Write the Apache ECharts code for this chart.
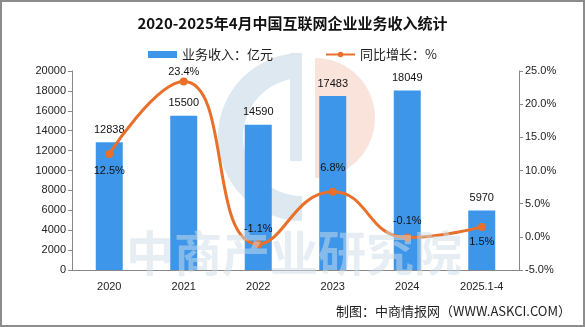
<!DOCTYPE html>
<html>
<head>
<meta charset="utf-8">
<script src="https://cdn.jsdelivr.net/npm/echarts@6/dist/echarts.min.js"></script>
<style>
  html, body { margin: 0; padding: 0; background: #fff; }
  #chart { width: 585px; height: 327px; box-sizing: border-box; border: 2px solid #8c8c8c; }
</style>
</head>
<body>
<div id="chart"></div>
<script>
// Categories and series
const categories = ['2020', '2021', '2022', '2023', '2024', '2025.1-4'];
const revenue = [12838, 15500, 14590, 17483, 18049, 5970];       // 亿元
const growth = [12.5, 23.4, -1.1, 6.8, -0.1, 1.5];                // %
const growthLabelPos = ['bottom', 'top', 'top', 'top', 'top', 'bottom'];
const growthLabelGap = [8, 0, 6, 14, 7, 6];

const leftTicks = { min: 0, max: 20000, interval: 2000 };
const rightTicks = { min: -5, max: 25, interval: 5 };

const labelFont = '"Liberation Sans", "DejaVu Sans", sans-serif';
const cjkFont = '"Noto Sans CJK SC", sans-serif';

const chart = echarts.init(document.getElementById('chart'), null, { renderer: 'canvas' });

chart.setOption({
  animation: false,
  backgroundColor: '#fff',
  title: {
    text: '2020-2025年4月中国互联网企业业务收入统计',
    left: 'center',
    top: 9,
    textStyle: { fontFamily: cjkFont, fontSize: 15, fontWeight: 'bold', color: '#111' }
  },
  legend: {
    top: 41,
    left: 'center',
    itemGap: 52,
    textStyle: { fontFamily: cjkFont, fontSize: 13, color: '#222' },
    data: [
      { name: '业务收入：亿元', icon: 'rect', itemStyle: { color: '#3d96ea' } },
      { name: '同比增长：%' }
    ],
    itemWidth: 29,
    itemHeight: 7
  },
  graphic: [
    // faint background logo
    {
      type: 'sector', z: -10, silent: true,
      shape: { cx: 300, cy: 135, r: 84, r0: 59, startAngle: Math.PI * 0.5, endAngle: Math.PI * 1.5, clockwise: true },
      style: { fill: '#dde8f0' }
    },
    {
      type: 'rect', z: -10, silent: true,
      shape: { x: 288, y: 51, width: 12, height: 108 },
      style: { fill: '#dde8f0' }
    },
    {
      type: 'sector', z: -10, silent: true,
      shape: { cx: 313, cy: 116, r: 60, r0: 0, startAngle: -Math.PI * 0.5, endAngle: Math.PI * 0.5, clockwise: true },
      style: { fill: '#f9e3da' }
    },
    {
      type: 'text', z: 100, silent: true,
      left: 124, top: 227,
      style: { text: '中商产业研究院', fontFamily: cjkFont, fontSize: 48, fontWeight: 'bold', fill: 'rgba(205,222,234,0.5)' }
    },
    {
      type: 'text', right: 12, bottom: 7,
      style: { text: '制图：中商情报网（WWW.ASKCI.COM）', fontFamily: cjkFont, fontSize: 13, fill: '#222' }
    }
  ],
  grid: { left: 70, right: 64, top: 69, bottom: 55 },
  xAxis: {
    type: 'category',
    data: categories,
    axisLine: { lineStyle: { color: '#888' } },
    axisTick: { lineStyle: { color: '#888' }, length: 4 },
    axisLabel: { fontFamily: labelFont, fontSize: 11, color: '#222', margin: 11 }
  },
  yAxis: [
    {
      type: 'value', ...leftTicks,
      axisLine: { show: true, lineStyle: { color: '#888' } },
      axisTick: { show: true, length: 4, lineStyle: { color: '#888' } },
      splitLine: { show: false },
      axisLabel: { fontFamily: labelFont, fontSize: 11, color: '#222', margin: 6,
        formatter: v => String(v) }
    },
    {
      type: 'value', ...rightTicks,
      axisLine: { show: true, lineStyle: { color: '#888' } },
      axisTick: { show: true, length: 4, lineStyle: { color: '#888' } },
      splitLine: { show: false },
      axisLabel: { fontFamily: labelFont, fontSize: 11, color: '#222', margin: 6,
        formatter: v => v.toFixed(1) + '%' }
    }
  ],
  series: [
    {
      name: '业务收入：亿元',
      type: 'bar',
      data: revenue,
      barWidth: 27,
      itemStyle: { color: '#3d96ea' },
      label: { show: true, position: 'top', distance: 7, fontFamily: labelFont, fontSize: 11, color: '#111' }
    },
    {
      name: '同比增长：%',
      type: 'line',
      yAxisIndex: 1,
      smooth: 0.5,
      data: growth.map((v, i) => ({
        value: v,
        label: { position: growthLabelPos[i], distance: growthLabelGap[i] }
      })),
      symbol: 'circle',
      symbolSize: 8,
      lineStyle: { color: '#e8702a', width: 3 },
      itemStyle: { color: '#e8702a' },
      label: { show: true, fontFamily: labelFont, fontSize: 11, color: '#111',
        formatter: p => p.value.toFixed(1) + '%' }
    }
  ]
});
</script>
</body>
</html>
